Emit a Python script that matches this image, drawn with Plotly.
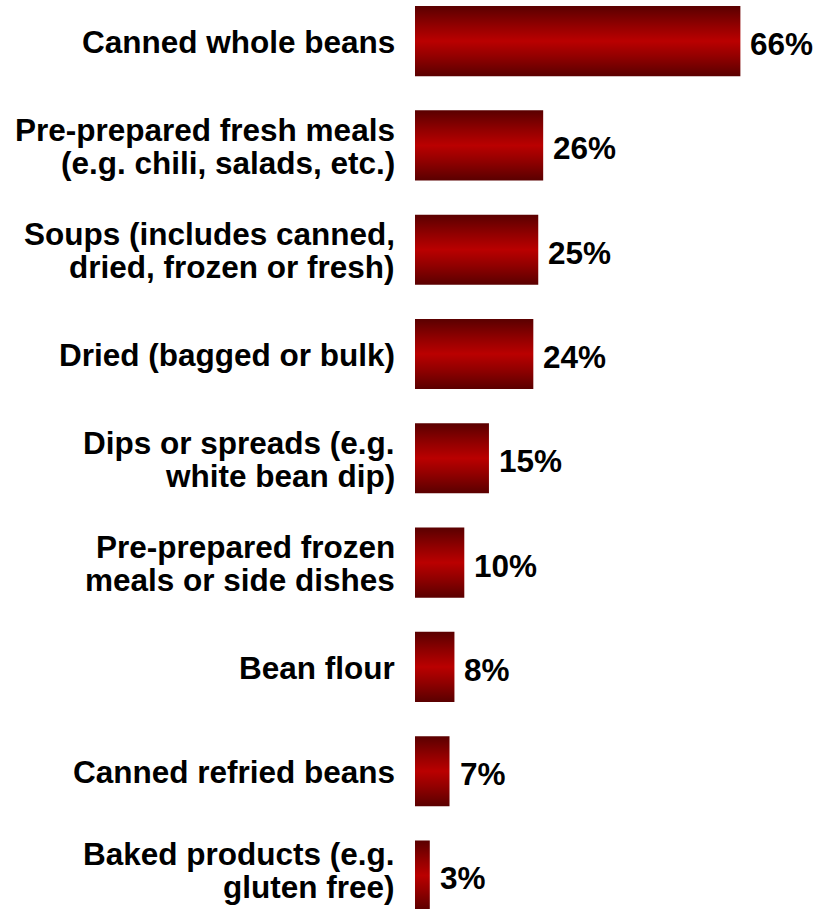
import plotly.graph_objects as go

# Survey: forms of beans purchased (share of respondents)
categories = [
    "Canned whole beans",
    "Pre-prepared fresh meals<br>(e.g. chili, salads, etc.)",
    "Soups (includes canned,<br>dried, frozen or fresh)",
    "Dried (bagged or bulk)",
    "Dips or spreads (e.g.<br>white bean dip)",
    "Pre-prepared frozen<br>meals or side dishes",
    "Bean flour",
    "Canned refried beans",
    "Baked products (e.g.<br>gluten free)",
]
values = [66, 26, 25, 24, 15, 10, 8, 7, 3]

W, H = 816, 909
LEFT = 415          # px reserved for category labels
PX_PER_PCT = 4.93   # horizontal scale
PX_PER_CAT = 104.3  # vertical pitch between bars
Y_TOP = -0.394      # category value at the top edge
BAR_HALF = 0.336    # half bar thickness in category units
LINE_GAP = 33       # px between label lines
FONT = "Liberation Sans, Arial, sans-serif"
label_font = dict(family=FONT, size=31.5, color="black", weight="bold")
gradient = [
    [0.0, "#5a0000"],
    [0.28, "#920000"],
    [0.5, "#ba0000"],
    [0.72, "#920000"],
    [1.0, "#5a0000"],
]

fig = go.Figure()
for i, v in enumerate(values):
    fig.add_trace(go.Scatter(
        x=[0, v, v, 0, 0],
        y=[i - BAR_HALF, i - BAR_HALF, i + BAR_HALF, i + BAR_HALF, i - BAR_HALF],
        mode="lines",
        line=dict(width=0),
        fill="toself",
        fillgradient=dict(type="vertical", colorscale=gradient),
        hoverinfo="skip",
        showlegend=False,
    ))

# value labels at the end of each bar
for i, v in enumerate(values):
    fig.add_annotation(
        x=v, y=i, text=f"{v}%", showarrow=False,
        xanchor="left", yanchor="middle", xshift=8, yshift=-3,
        font=label_font,
    )

# category labels, one annotation per line for tight leading;
# a label block that would run past the bottom edge is lifted back inside
max_center = H - 22
for i, cat in enumerate(categories):
    lines = cat.split("<br>")
    m = len(lines)
    shifts = [-(k - (m - 1) / 2) * LINE_GAP - 1 for k in range(m)]
    lowest_px = (i - Y_TOP) * PX_PER_CAT - min(shifts)
    lift = max(0.0, lowest_px - max_center)
    for line, shift in zip(lines, shifts):
        fig.add_annotation(
            xref="paper", x=0, y=i, text=line, showarrow=False,
            xanchor="right", yanchor="middle", xshift=-18, yshift=shift + lift,
            font=label_font,
        )

fig.update_layout(
    width=W, height=H,
    margin=dict(l=LEFT, r=0, t=0, b=0),
    plot_bgcolor="white", paper_bgcolor="white",
    xaxis=dict(range=[0, (W - LEFT) / PX_PER_PCT], visible=False, fixedrange=True),
    yaxis=dict(
        range=[Y_TOP + H / PX_PER_CAT, Y_TOP],
        visible=False, fixedrange=True,
    ),
)

fig.write_html("out.html")
